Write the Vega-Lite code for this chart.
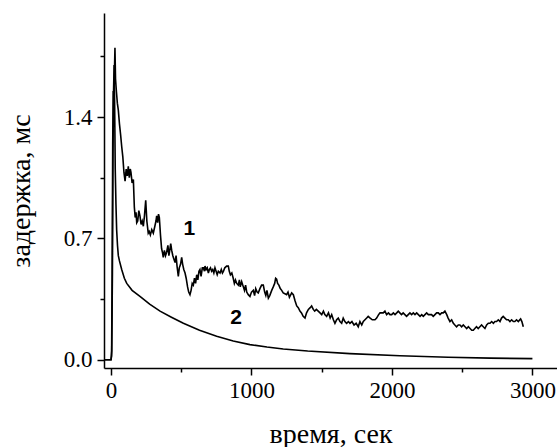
{
  "$schema": "https://vega.github.io/schema/vega-lite/v6.json",
  "width": 453,
  "height": 355,
  "autosize": "none",
  "padding": {"left": 104, "top": 13, "right": 0, "bottom": 79},
  "background": "white",
  "config": {
    "view": {"stroke": null},
    "axis": {
      "grid": false,
      "domainColor": "black",
      "domainWidth": 1.5,
      "tickColor": "black",
      "tickWidth": 1.5,
      "labelColor": "black",
      "labelFont": "'Liberation Serif', 'Times New Roman', serif",
      "labelFontSize": 23,
      "titleColor": "black",
      "titleFont": "'Liberation Serif', 'Times New Roman', serif",
      "titleFontSize": 28,
      "titleFontWeight": "normal"
    }
  },
  "datasets": {
    "curves": [
      {"t": -50, "v": 0, "s": "1"}, {"t": -20, "v": 0, "s": "1"}, {"t": 0, "v": 0, "s": "1"}, {"t": 4, "v": 0.02, "s": "1"},
      {"t": 8, "v": 0.5, "s": "1"}, {"t": 12, "v": 1.25, "s": "1"}, {"t": 16, "v": 1.55, "s": "1"}, {"t": 20, "v": 1.45, "s": "1"},
      {"t": 24, "v": 1.65, "s": "1"}, {"t": 28, "v": 1.8, "s": "1"}, {"t": 32, "v": 1.62, "s": "1"}, {"t": 38, "v": 1.55, "s": "1"},
      {"t": 45, "v": 1.48, "s": "1"}, {"t": 52, "v": 1.44, "s": "1"}, {"t": 60, "v": 1.36, "s": "1"}, {"t": 68, "v": 1.3, "s": "1"},
      {"t": 76, "v": 1.23, "s": "1"}, {"t": 84, "v": 1.17, "s": "1"}, {"t": 92, "v": 1.08, "s": "1"}, {"t": 100, "v": 1.03, "s": "1"},
      {"t": 108, "v": 1.1, "s": "1"}, {"t": 116, "v": 1.06, "s": "1"}, {"t": 123, "v": 1.115, "s": "1"}, {"t": 130, "v": 1.05, "s": "1"},
      {"t": 137, "v": 1.1, "s": "1"}, {"t": 142, "v": 1.08, "s": "1"}, {"t": 150, "v": 1.02, "s": "1"}, {"t": 159, "v": 1.04, "s": "1"},
      {"t": 166, "v": 0.88, "s": "1"}, {"t": 172, "v": 0.82, "s": "1"}, {"t": 178, "v": 0.85, "s": "1"}, {"t": 183, "v": 0.79, "s": "1"},
      {"t": 190, "v": 0.8, "s": "1"}, {"t": 198, "v": 0.86, "s": "1"}, {"t": 206, "v": 0.83, "s": "1"}, {"t": 214, "v": 0.78, "s": "1"},
      {"t": 222, "v": 0.8, "s": "1"}, {"t": 230, "v": 0.77, "s": "1"}, {"t": 238, "v": 0.83, "s": "1"}, {"t": 247, "v": 0.92, "s": "1"},
      {"t": 255, "v": 0.8, "s": "1"}, {"t": 265, "v": 0.73, "s": "1"}, {"t": 272, "v": 0.74, "s": "1"}, {"t": 280, "v": 0.72, "s": "1"},
      {"t": 290, "v": 0.75, "s": "1"}, {"t": 301, "v": 0.73, "s": "1"}, {"t": 312, "v": 0.77, "s": "1"}, {"t": 320, "v": 0.8, "s": "1"},
      {"t": 325, "v": 0.83, "s": "1"}, {"t": 332, "v": 0.79, "s": "1"}, {"t": 338, "v": 0.84, "s": "1"}, {"t": 344, "v": 0.82, "s": "1"},
      {"t": 352, "v": 0.72, "s": "1"}, {"t": 360, "v": 0.64, "s": "1"}, {"t": 366, "v": 0.62, "s": "1"}, {"t": 372, "v": 0.59, "s": "1"},
      {"t": 380, "v": 0.63, "s": "1"}, {"t": 388, "v": 0.6, "s": "1"}, {"t": 396, "v": 0.62, "s": "1"}, {"t": 405, "v": 0.66, "s": "1"},
      {"t": 412, "v": 0.6, "s": "1"}, {"t": 418, "v": 0.63, "s": "1"}, {"t": 425, "v": 0.67, "s": "1"}, {"t": 432, "v": 0.63, "s": "1"},
      {"t": 440, "v": 0.6, "s": "1"}, {"t": 448, "v": 0.58, "s": "1"}, {"t": 456, "v": 0.56, "s": "1"}, {"t": 463, "v": 0.6, "s": "1"},
      {"t": 470, "v": 0.54, "s": "1"}, {"t": 479, "v": 0.48, "s": "1"}, {"t": 486, "v": 0.53, "s": "1"}, {"t": 495, "v": 0.55, "s": "1"},
      {"t": 503, "v": 0.59, "s": "1"}, {"t": 510, "v": 0.55, "s": "1"}, {"t": 518, "v": 0.52, "s": "1"}, {"t": 527, "v": 0.5, "s": "1"},
      {"t": 535, "v": 0.47, "s": "1"}, {"t": 545, "v": 0.42, "s": "1"}, {"t": 553, "v": 0.39, "s": "1"}, {"t": 562, "v": 0.375, "s": "1"},
      {"t": 570, "v": 0.4, "s": "1"}, {"t": 578, "v": 0.44, "s": "1"}, {"t": 586, "v": 0.43, "s": "1"}, {"t": 594, "v": 0.47, "s": "1"},
      {"t": 602, "v": 0.44, "s": "1"}, {"t": 610, "v": 0.49, "s": "1"}, {"t": 618, "v": 0.46, "s": "1"}, {"t": 626, "v": 0.51, "s": "1"},
      {"t": 633, "v": 0.52, "s": "1"}, {"t": 641, "v": 0.48, "s": "1"}, {"t": 650, "v": 0.53, "s": "1"}, {"t": 657, "v": 0.53, "s": "1"},
      {"t": 665, "v": 0.51, "s": "1"}, {"t": 669, "v": 0.54, "s": "1"}, {"t": 677, "v": 0.52, "s": "1"}, {"t": 685, "v": 0.53, "s": "1"},
      {"t": 693, "v": 0.5, "s": "1"}, {"t": 700, "v": 0.52, "s": "1"}, {"t": 708, "v": 0.53, "s": "1"}, {"t": 716, "v": 0.51, "s": "1"},
      {"t": 724, "v": 0.52, "s": "1"}, {"t": 732, "v": 0.5, "s": "1"}, {"t": 740, "v": 0.53, "s": "1"}, {"t": 748, "v": 0.51, "s": "1"},
      {"t": 756, "v": 0.49, "s": "1"}, {"t": 764, "v": 0.51, "s": "1"}, {"t": 776, "v": 0.5, "s": "1"}, {"t": 785, "v": 0.52, "s": "1"},
      {"t": 793, "v": 0.5, "s": "1"}, {"t": 800, "v": 0.51, "s": "1"}, {"t": 810, "v": 0.53, "s": "1"}, {"t": 823, "v": 0.54, "s": "1"},
      {"t": 835, "v": 0.54, "s": "1"}, {"t": 842, "v": 0.51, "s": "1"}, {"t": 850, "v": 0.49, "s": "1"}, {"t": 860, "v": 0.5, "s": "1"},
      {"t": 870, "v": 0.47, "s": "1"}, {"t": 878, "v": 0.44, "s": "1"}, {"t": 886, "v": 0.46, "s": "1"}, {"t": 895, "v": 0.44, "s": "1"},
      {"t": 906, "v": 0.43, "s": "1"}, {"t": 914, "v": 0.46, "s": "1"}, {"t": 920, "v": 0.42, "s": "1"}, {"t": 930, "v": 0.45, "s": "1"},
      {"t": 942, "v": 0.42, "s": "1"}, {"t": 950, "v": 0.4, "s": "1"}, {"t": 958, "v": 0.43, "s": "1"}, {"t": 966, "v": 0.39, "s": "1"},
      {"t": 977, "v": 0.375, "s": "1"}, {"t": 989, "v": 0.365, "s": "1"}, {"t": 1000, "v": 0.39, "s": "1"}, {"t": 1013, "v": 0.4, "s": "1"},
      {"t": 1022, "v": 0.37, "s": "1"}, {"t": 1030, "v": 0.41, "s": "1"}, {"t": 1040, "v": 0.39, "s": "1"}, {"t": 1048, "v": 0.385, "s": "1"},
      {"t": 1060, "v": 0.41, "s": "1"}, {"t": 1072, "v": 0.43, "s": "1"}, {"t": 1084, "v": 0.43, "s": "1"}, {"t": 1094, "v": 0.39, "s": "1"},
      {"t": 1102, "v": 0.37, "s": "1"}, {"t": 1110, "v": 0.4, "s": "1"}, {"t": 1120, "v": 0.355, "s": "1"}, {"t": 1130, "v": 0.37, "s": "1"},
      {"t": 1144, "v": 0.4, "s": "1"}, {"t": 1155, "v": 0.42, "s": "1"}, {"t": 1165, "v": 0.44, "s": "1"}, {"t": 1172, "v": 0.47, "s": "1"},
      {"t": 1179, "v": 0.465, "s": "1"}, {"t": 1186, "v": 0.44, "s": "1"}, {"t": 1195, "v": 0.43, "s": "1"}, {"t": 1205, "v": 0.41, "s": "1"},
      {"t": 1215, "v": 0.4, "s": "1"}, {"t": 1226, "v": 0.385, "s": "1"}, {"t": 1238, "v": 0.38, "s": "1"}, {"t": 1250, "v": 0.375, "s": "1"},
      {"t": 1260, "v": 0.39, "s": "1"}, {"t": 1270, "v": 0.36, "s": "1"}, {"t": 1286, "v": 0.385, "s": "1"}, {"t": 1298, "v": 0.375, "s": "1"},
      {"t": 1310, "v": 0.34, "s": "1"}, {"t": 1322, "v": 0.31, "s": "1"}, {"t": 1333, "v": 0.3, "s": "1"}, {"t": 1345, "v": 0.28, "s": "1"},
      {"t": 1356, "v": 0.27, "s": "1"}, {"t": 1368, "v": 0.25, "s": "1"}, {"t": 1381, "v": 0.24, "s": "1"}, {"t": 1392, "v": 0.27, "s": "1"},
      {"t": 1405, "v": 0.29, "s": "1"}, {"t": 1418, "v": 0.3, "s": "1"}, {"t": 1428, "v": 0.31, "s": "1"}, {"t": 1440, "v": 0.29, "s": "1"},
      {"t": 1450, "v": 0.28, "s": "1"}, {"t": 1462, "v": 0.29, "s": "1"}, {"t": 1475, "v": 0.28, "s": "1"}, {"t": 1488, "v": 0.27, "s": "1"},
      {"t": 1500, "v": 0.26, "s": "1"}, {"t": 1512, "v": 0.28, "s": "1"}, {"t": 1522, "v": 0.26, "s": "1"}, {"t": 1535, "v": 0.25, "s": "1"},
      {"t": 1548, "v": 0.27, "s": "1"}, {"t": 1560, "v": 0.24, "s": "1"}, {"t": 1571, "v": 0.26, "s": "1"}, {"t": 1583, "v": 0.23, "s": "1"},
      {"t": 1594, "v": 0.21, "s": "1"}, {"t": 1606, "v": 0.23, "s": "1"}, {"t": 1618, "v": 0.24, "s": "1"}, {"t": 1630, "v": 0.22, "s": "1"},
      {"t": 1642, "v": 0.21, "s": "1"}, {"t": 1653, "v": 0.24, "s": "1"}, {"t": 1665, "v": 0.22, "s": "1"}, {"t": 1677, "v": 0.21, "s": "1"},
      {"t": 1690, "v": 0.22, "s": "1"}, {"t": 1701, "v": 0.21, "s": "1"}, {"t": 1715, "v": 0.22, "s": "1"}, {"t": 1730, "v": 0.2, "s": "1"},
      {"t": 1745, "v": 0.21, "s": "1"}, {"t": 1760, "v": 0.19, "s": "1"}, {"t": 1772, "v": 0.22, "s": "1"}, {"t": 1785, "v": 0.2, "s": "1"},
      {"t": 1796, "v": 0.22, "s": "1"}, {"t": 1808, "v": 0.23, "s": "1"}, {"t": 1820, "v": 0.24, "s": "1"}, {"t": 1831, "v": 0.25, "s": "1"},
      {"t": 1845, "v": 0.24, "s": "1"}, {"t": 1860, "v": 0.23, "s": "1"}, {"t": 1879, "v": 0.23, "s": "1"}, {"t": 1891, "v": 0.24, "s": "1"},
      {"t": 1905, "v": 0.26, "s": "1"}, {"t": 1915, "v": 0.27, "s": "1"}, {"t": 1926, "v": 0.27, "s": "1"}, {"t": 1938, "v": 0.27, "s": "1"},
      {"t": 1950, "v": 0.28, "s": "1"}, {"t": 1962, "v": 0.26, "s": "1"}, {"t": 1975, "v": 0.27, "s": "1"}, {"t": 1986, "v": 0.26, "s": "1"},
      {"t": 1998, "v": 0.26, "s": "1"}, {"t": 2010, "v": 0.27, "s": "1"}, {"t": 2022, "v": 0.26, "s": "1"}, {"t": 2034, "v": 0.27, "s": "1"},
      {"t": 2045, "v": 0.28, "s": "1"}, {"t": 2056, "v": 0.27, "s": "1"}, {"t": 2068, "v": 0.26, "s": "1"}, {"t": 2080, "v": 0.27, "s": "1"},
      {"t": 2092, "v": 0.26, "s": "1"}, {"t": 2104, "v": 0.25, "s": "1"}, {"t": 2116, "v": 0.26, "s": "1"}, {"t": 2128, "v": 0.27, "s": "1"},
      {"t": 2140, "v": 0.26, "s": "1"}, {"t": 2152, "v": 0.27, "s": "1"}, {"t": 2164, "v": 0.26, "s": "1"}, {"t": 2176, "v": 0.27, "s": "1"},
      {"t": 2188, "v": 0.26, "s": "1"}, {"t": 2200, "v": 0.25, "s": "1"}, {"t": 2212, "v": 0.26, "s": "1"}, {"t": 2223, "v": 0.25, "s": "1"},
      {"t": 2235, "v": 0.26, "s": "1"}, {"t": 2247, "v": 0.27, "s": "1"}, {"t": 2259, "v": 0.26, "s": "1"}, {"t": 2270, "v": 0.26, "s": "1"},
      {"t": 2282, "v": 0.26, "s": "1"}, {"t": 2294, "v": 0.25, "s": "1"}, {"t": 2306, "v": 0.26, "s": "1"}, {"t": 2318, "v": 0.27, "s": "1"},
      {"t": 2330, "v": 0.27, "s": "1"}, {"t": 2342, "v": 0.26, "s": "1"}, {"t": 2354, "v": 0.27, "s": "1"}, {"t": 2365, "v": 0.27, "s": "1"},
      {"t": 2377, "v": 0.28, "s": "1"}, {"t": 2390, "v": 0.26, "s": "1"}, {"t": 2400, "v": 0.24, "s": "1"}, {"t": 2413, "v": 0.22, "s": "1"},
      {"t": 2425, "v": 0.23, "s": "1"}, {"t": 2437, "v": 0.21, "s": "1"}, {"t": 2448, "v": 0.2, "s": "1"}, {"t": 2460, "v": 0.19, "s": "1"},
      {"t": 2472, "v": 0.2, "s": "1"}, {"t": 2484, "v": 0.2, "s": "1"}, {"t": 2496, "v": 0.19, "s": "1"}, {"t": 2508, "v": 0.2, "s": "1"},
      {"t": 2520, "v": 0.19, "s": "1"}, {"t": 2532, "v": 0.18, "s": "1"}, {"t": 2544, "v": 0.19, "s": "1"}, {"t": 2556, "v": 0.18, "s": "1"},
      {"t": 2568, "v": 0.17, "s": "1"}, {"t": 2579, "v": 0.17, "s": "1"}, {"t": 2590, "v": 0.18, "s": "1"}, {"t": 2602, "v": 0.19, "s": "1"},
      {"t": 2614, "v": 0.18, "s": "1"}, {"t": 2626, "v": 0.19, "s": "1"}, {"t": 2638, "v": 0.2, "s": "1"}, {"t": 2650, "v": 0.19, "s": "1"},
      {"t": 2662, "v": 0.18, "s": "1"}, {"t": 2674, "v": 0.2, "s": "1"}, {"t": 2686, "v": 0.21, "s": "1"}, {"t": 2698, "v": 0.21, "s": "1"},
      {"t": 2710, "v": 0.22, "s": "1"}, {"t": 2722, "v": 0.21, "s": "1"}, {"t": 2733, "v": 0.22, "s": "1"}, {"t": 2745, "v": 0.22, "s": "1"},
      {"t": 2757, "v": 0.23, "s": "1"}, {"t": 2769, "v": 0.22, "s": "1"}, {"t": 2780, "v": 0.24, "s": "1"}, {"t": 2792, "v": 0.25, "s": "1"},
      {"t": 2804, "v": 0.24, "s": "1"}, {"t": 2816, "v": 0.23, "s": "1"}, {"t": 2828, "v": 0.23, "s": "1"}, {"t": 2840, "v": 0.22, "s": "1"},
      {"t": 2852, "v": 0.23, "s": "1"}, {"t": 2864, "v": 0.22, "s": "1"}, {"t": 2875, "v": 0.22, "s": "1"}, {"t": 2887, "v": 0.23, "s": "1"},
      {"t": 2900, "v": 0.22, "s": "1"}, {"t": 2910, "v": 0.23, "s": "1"}, {"t": 2916, "v": 0.235, "s": "1"}, {"t": 2925, "v": 0.22, "s": "1"},
      {"t": 2935, "v": 0.19, "s": "1"},
      {"t": -50, "v": 0, "s": "2"}, {"t": -10, "v": 0, "s": "2"}, {"t": 0, "v": 0, "s": "2"}, {"t": 5, "v": 0.05, "s": "2"},
      {"t": 10, "v": 0.5, "s": "2"}, {"t": 14, "v": 1.2, "s": "2"}, {"t": 18, "v": 1.55, "s": "2"}, {"t": 22, "v": 1.7, "s": "2"},
      {"t": 26, "v": 1.45, "s": "2"}, {"t": 30, "v": 1.1, "s": "2"}, {"t": 35, "v": 0.9, "s": "2"}, {"t": 40, "v": 0.75, "s": "2"},
      {"t": 46, "v": 0.66, "s": "2"}, {"t": 52, "v": 0.6, "s": "2"}, {"t": 60, "v": 0.57, "s": "2"}, {"t": 76, "v": 0.52, "s": "2"},
      {"t": 95, "v": 0.47, "s": "2"}, {"t": 112, "v": 0.44, "s": "2"}, {"t": 150, "v": 0.4, "s": "2"}, {"t": 206, "v": 0.365, "s": "2"},
      {"t": 275, "v": 0.32, "s": "2"}, {"t": 349, "v": 0.28, "s": "2"}, {"t": 430, "v": 0.245, "s": "2"}, {"t": 515, "v": 0.21, "s": "2"},
      {"t": 630, "v": 0.17, "s": "2"}, {"t": 752, "v": 0.135, "s": "2"}, {"t": 870, "v": 0.108, "s": "2"}, {"t": 989, "v": 0.087, "s": "2"},
      {"t": 1110, "v": 0.073, "s": "2"}, {"t": 1226, "v": 0.062, "s": "2"}, {"t": 1400, "v": 0.05, "s": "2"}, {"t": 1701, "v": 0.035, "s": "2"},
      {"t": 2057, "v": 0.023, "s": "2"}, {"t": 2400, "v": 0.014, "s": "2"}, {"t": 2700, "v": 0.009, "s": "2"}, {"t": 3000, "v": 0.006, "s": "2"}
    ],
    "labels": [
      {"t": 557, "v": 0.754, "label": "1"},
      {"t": 890, "v": 0.24, "label": "2"}
    ]
  },
  "layer": [
    {
      "data": {"name": "curves"},
      "mark": {"type": "line", "color": "black", "strokeWidth": 1.6, "clip": true},
      "encoding": {
        "x": {
          "field": "t", "type": "quantitative",
          "scale": {"domain": [-50, 3175], "nice": false, "zero": false},
          "axis": {
            "title": "время, сек",
            "values": [0, 500, 1000, 1500, 2000, 2500, 3000],
            "labelExpr": "datum.value % 1000 === 0 ? format(datum.value, 'd') : ''",
            "tickSize": {"condition": {"test": "datum.value % 1000 === 0", "value": 7}, "value": 4},
            "labelPadding": 4,
            "titlePadding": 18,
            "labelFlush": false,
            "labelOverlap": false
          }
        },
        "y": {
          "field": "v", "type": "quantitative",
          "scale": {"domain": [-0.048, 2.0], "nice": false, "zero": false},
          "axis": {
            "title": "задержка, мс",
            "values": [0, 0.35, 0.7, 1.05, 1.4, 1.75],
            "labelExpr": "round(datum.value * 100) % 70 === 0 ? format(datum.value, '.1f') : ''",
            "tickSize": {"condition": {"test": "round(datum.value * 100) % 70 === 0", "value": 7}, "value": 4},
            "labelPadding": 5,
            "titlePadding": 28,
            "labelOverlap": false
          }
        },
        "detail": {"field": "s", "type": "nominal"}
      }
    },
    {
      "data": {"name": "labels"},
      "mark": {"type": "text", "font": "'Liberation Sans', Arial, sans-serif", "fontWeight": "bold", "fontSize": 21, "color": "black", "align": "center", "baseline": "middle"},
      "encoding": {
        "x": {"field": "t", "type": "quantitative"},
        "y": {"field": "v", "type": "quantitative"},
        "text": {"field": "label", "type": "nominal"}
      }
    }
  ]
}
